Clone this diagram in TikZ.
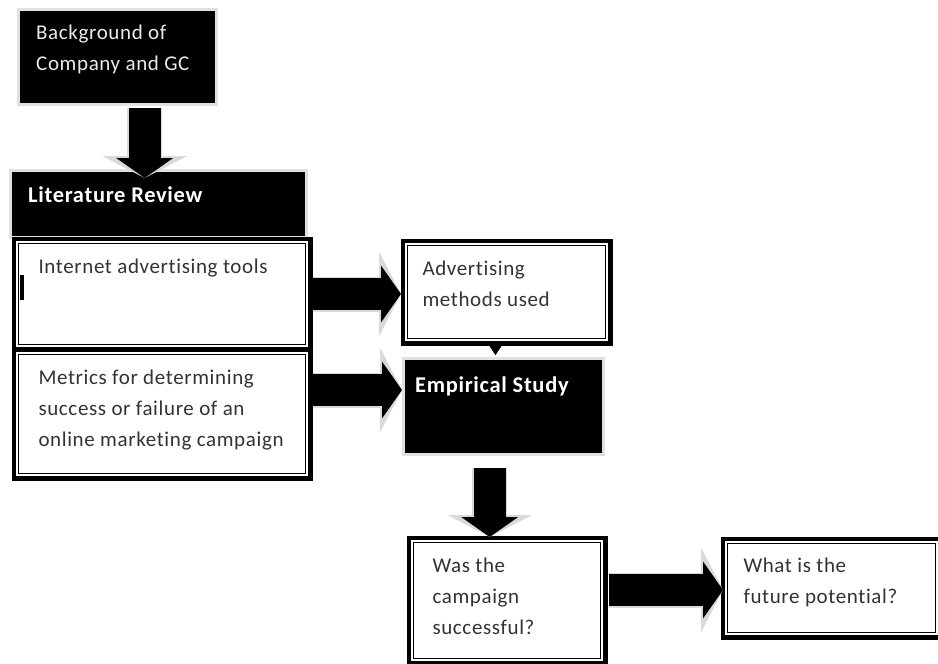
\documentclass[tikz,border=0pt]{standalone}
\usepackage{fontspec}
\setmainfont{Carlito}[LetterSpace=3, Ligatures=NoCommon]
\usetikzlibrary{arrows.meta,calc}

\newcommand{\boxtext}[3]{\parbox[c][#2][t]{#1}{\raggedright\rule{0pt}{15pt}#3}}

\begin{document}
\begin{tikzpicture}[x=1pt,y=-1pt,
    every node/.style={anchor=north west, font=\fontsize{21}{31}\selectfont, text=black!80},
    darkbox/.style={preaction={draw=black!12,line width=6pt}, fill=black, text=white},
    boldtext/.style={font=\fontsize{22.5}{31}\selectfont\bfseries},
    framebox/.style={preaction={draw=black,line width=14pt}, preaction={draw=white,line width=5pt},
        fill=white, draw=black, line width=1pt},
    fatarrow/.style={preaction={draw=black!15, line width=35pt, -{Triangle[width=84pt,length=22pt]}},
        draw=black, line width=32pt, -{Triangle[width=56pt,length=20pt]}},
    tinyarrow/.style={draw=black, line width=0.4pt, -{Triangle[width=12pt,length=9pt]}}
]
\useasboundingbox (0,0) rectangle (938,664);

% boxes
\node[darkbox, inner xsep=16pt, inner ysep=13pt, text=black!8] (bg) at (20,11)
    {\boxtext{163pt}{66pt}{Background of\\Company and GC}};
\node[darkbox, boldtext, inner xsep=16pt, inner ysep=15pt] (lit) at (12,172)
    {\boxtext{261pt}{34pt}{Literature Review}};
\node[framebox, inner xsep=20pt, inner ysep=15pt] (tools) at (18,243)
    {\boxtext{247pt}{71pt}{Internet advertising tools}};
\node[framebox, inner xsep=20pt, inner ysep=15pt] (metrics) at (18,354)
    {\boxtext{247pt}{89pt}{Metrics for determining\\success or failure of an\\online marketing campaign}};
\node[framebox, inner xsep=15pt, inner ysep=15pt] (adv) at (407,245)
    {\boxtext{168pt}{63pt}{Advertising\\methods used}};
\node[darkbox, boldtext, inner xsep=10pt, inner ysep=17pt] (emp) at (405,360)
    {\boxtext{177pt}{59pt}{Empirical Study}};
\node[framebox, inner xsep=19pt, inner ysep=15pt] (camp) at (413,542)
    {\boxtext{149pt}{86pt}{Was the\\campaign\\successful?}};
\node[framebox, inner xsep=16pt, inner ysep=14pt] (fut) at (727,543)
    {\boxtext{176pt}{61pt}{What is the\\future potential?}};

\fill[black] ($(tools.north west)+(2,32)$) rectangle +(4,25);

% arrows
\draw[fatarrow] ($(bg.south)+(27,5)$) -- ($(bg.south |- lit.north)+(27,6)$);
\draw[fatarrow] ($(tools.east)+(7,0)$) -- ($(tools.east -| adv.west)+(-6,0)$);
\draw[fatarrow] ($(metrics.east)+(7,-24)$) -- ($(metrics.east -| emp.west)+(-3,-24)$);
\draw[tinyarrow] ($(adv.south)+(-11,6)$) -- ($(adv.south |- emp.north)+(-11,-5)$);
\draw[fatarrow] ($(emp.south)+(-14,15)$) -- ($(emp.south |- camp.north)+(-14,-5)$);
\draw[fatarrow] ($(camp.east |- fut.west)+(8,2)$) -- ($(fut.west)+(-4,2)$);
\end{tikzpicture}
\end{document}
